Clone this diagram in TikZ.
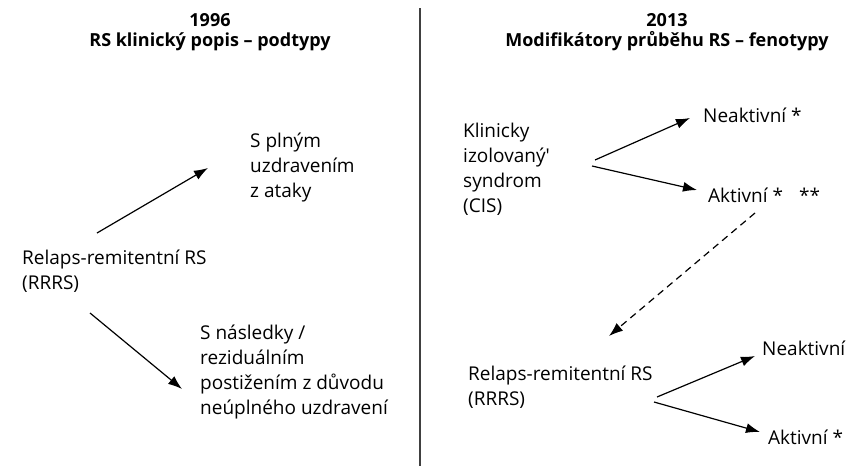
\documentclass[tikz,border=0pt]{standalone}
\usepackage{fontspec}
\setmainfont{Open Sans}
\usetikzlibrary{arrows.meta}
\usetikzlibrary{positioning}
\tikzset{txt/.style = {align=left, anchor=base west, inner sep=0,
                       font=\fontsize{19}{25}\selectfont}}
\tikzset{head/.style = {align=center, anchor=base, inner sep=0,
                        font=\fontsize{18}{20}\selectfont\bfseries}}
\tikzset{arr/.style = {-{Latex[length=14pt, width=10pt]}, line width=1.2pt}}
\tikzset{darr/.style = {arr, dash pattern=on 7pt off 5pt}}

\begin{document}
\begin{tikzpicture}[x=1pt, y=-1pt]
      \useasboundingbox (0, 0) rectangle (849, 466);

      \draw [line width=1.2pt, black!75] (420, 8) -- (420, 466); % divider

      % base anchor = last line
      \node [head] (headL) at (210, 46) {1996\\RS klinický popis – podtypy};
      \node [head] (headR) at (667, 46) {2013\\Modifikátory průběhu RS – fenotypy};

      % 1996
      \node [txt] (rrL) at (22, 289) {Relaps-remitentní RS\\(RRRS)};
      \node [txt] (full) at (250, 197) {S plným\\uzdravením\\z ataky};
      \node [txt] (resid) at (200, 414) {S následky /\\reziduálním\\postižením z důvodu\\neúplného uzdravení};

      \coordinate (rrL-up) at (97, 233);
      \coordinate (full-in) at (208, 168);
      \coordinate (rrL-dn) at (90, 313);
      \coordinate (resid-in) at (182, 389);

      \draw [arr] (rrL-up) -- (full-in);
      \draw [arr] (rrL-dn) -- (resid-in);

      % 2013
      \node [txt] (cis) at (463, 212) {Klinicky\\izolovaný\textquotesingle\\syndrom\\(CIS)};
      \node [txt] (cisN) at (703, 122) {Neaktivní *};
      \node [txt] (cisA) at (708, 202) {Aktivní *\hspace{16pt}**};
      \node [txt] (rrR) at (468, 405) {Relaps-remitentní RS\\(RRRS)};
      \node [txt] (rrN) at (762, 355) {Neaktivní};
      \node [txt] (rrA) at (768, 444) {Aktivní *};

      \coordinate (cis-up) at (595, 160);
      \coordinate (cisN-in) at (690, 118);
      \coordinate (cis-dn) at (592, 166);
      \coordinate (cisA-in) at (697, 190);
      \coordinate (cisA-out) at (755, 213);
      \coordinate (rrR-in) at (609, 336);
      \coordinate (rrR-up) at (657, 397);
      \coordinate (rrN-in) at (755, 356);
      \coordinate (rrR-dn) at (654, 402);
      \coordinate (rrA-in) at (760, 432);

      \draw [arr] (cis-up) -- (cisN-in);
      \draw [arr] (cis-dn) -- (cisA-in);
      \draw [darr] (cisA-out) -- (rrR-in);
      \draw [arr] (rrR-up) -- (rrN-in);
      \draw [arr] (rrR-dn) -- (rrA-in);
\end{tikzpicture}
\end{document}
